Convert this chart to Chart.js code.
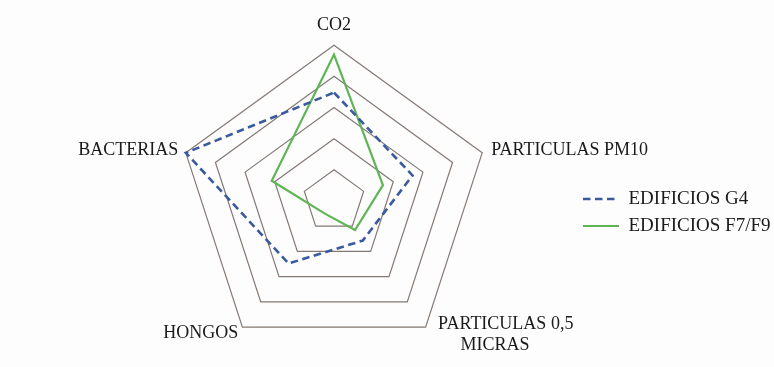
<!DOCTYPE html>
<html>
<head>
<meta charset="utf-8">
<script src="https://cdn.jsdelivr.net/npm/chart.js@4/dist/chart.umd.min.js"></script>
<style>
  html, body { margin: 0; padding: 0; background: #fdfdfd; }
  #wrap { width: 774px; height: 367px; position: relative; }
</style>
</head>
<body>
<div id="wrap"><canvas id="c"></canvas></div>
<script>
const categories = ['CO2', 'PARTICULAS PM10', ['PARTICULAS 0,5', 'MICRAS'], 'HONGOS', 'BACTERIAS'];
const seriesNames = ['EDIFICIOS G4', 'EDIFICIOS F7/F9'];
const g4Values = [3.48, 2.65, 1.57, 2.48, 5.0];
const f7f9Values = [4.70, 1.65, 1.15, 0.5, 2.1];
const ringTicks = [0, 1, 2, 3, 4, 5];

// label placement tweaks (style only)
const labelPadding = [20, 9.5, -17, 7, 8];
const labelLineHeight = [0.01, 0.01, 1.2, 0.01, 0.01];
const labelIndent = [0, 0, 5, 0, 0];

const legendMover = {
  id: 'legendMover',
  afterLayout(chart) {
    const lg = chart.legend;
    if (!lg) return;
    const w = lg.width;
    lg.left = 575;
    lg.right = 575 + w;
    lg.top = 180;
    lg.bottom = 245;
  }
};

new Chart(document.getElementById('c'), {
  type: 'radar',
  data: {
    labels: categories,
    datasets: [
      {
        label: seriesNames[0],
        data: g4Values,
        borderColor: '#3a5a9f',
        borderWidth: 2.6,
        borderDash: [7.5, 4.5],
        fill: false,
        pointRadius: 0,
        pointHoverRadius: 0,
        tension: 0
      },
      {
        label: seriesNames[1],
        data: f7f9Values,
        borderColor: '#5fb556',
        borderWidth: 2.2,
        fill: false,
        pointRadius: 0,
        pointHoverRadius: 0,
        tension: 0
      }
    ]
  },
  plugins: [legendMover],
  options: {
    responsive: true,
    maintainAspectRatio: false,
    animation: false,
    layout: { padding: { left: 0, right: 105, top: 15, bottom: 0 } },
    plugins: {
      tooltip: { enabled: false },
      legend: {
        position: 'chartArea',
        labels: {
          usePointStyle: true,
          pointStyleWidth: 36,
          padding: 8,
          color: '#1a1a1a',
          font: { family: 'Liberation Serif', size: 19 },
          generateLabels(chart) {
            const items = Chart.defaults.plugins.legend.labels.generateLabels(chart);
            items.forEach(it => {
              const ds = chart.data.datasets[it.datasetIndex];
              it.pointStyle = 'line';
              it.lineDash = ds.borderDash || [];
              it.strokeStyle = ds.borderColor;
              it.lineWidth = ds.borderWidth;
            });
            return items;
          }
        }
      }
    },
    scales: {
      r: {
        min: ringTicks[0],
        max: ringTicks[ringTicks.length - 1],
        ticks: { display: false, stepSize: 1 },
        angleLines: { display: false },
        grid: { color: '#837873', lineWidth: 1.2 },
        pointLabels: {
          color: '#1a1a1a',
          font: ctx => ({ family: 'Liberation Serif', size: 18, lineHeight: labelLineHeight[ctx.index] }),
          padding: ctx => labelPadding[ctx.index],
          callback: (label, index) => {
            const n = labelIndent[index];
            if (!n) return label;
            const lines = Array.isArray(label) ? label : [label];
            return lines.map((s, k) => ' '.repeat(k === 0 ? n : n + 5) + s);
          }
        }
      }
    }
  }
});
</script>
</body>
</html>
